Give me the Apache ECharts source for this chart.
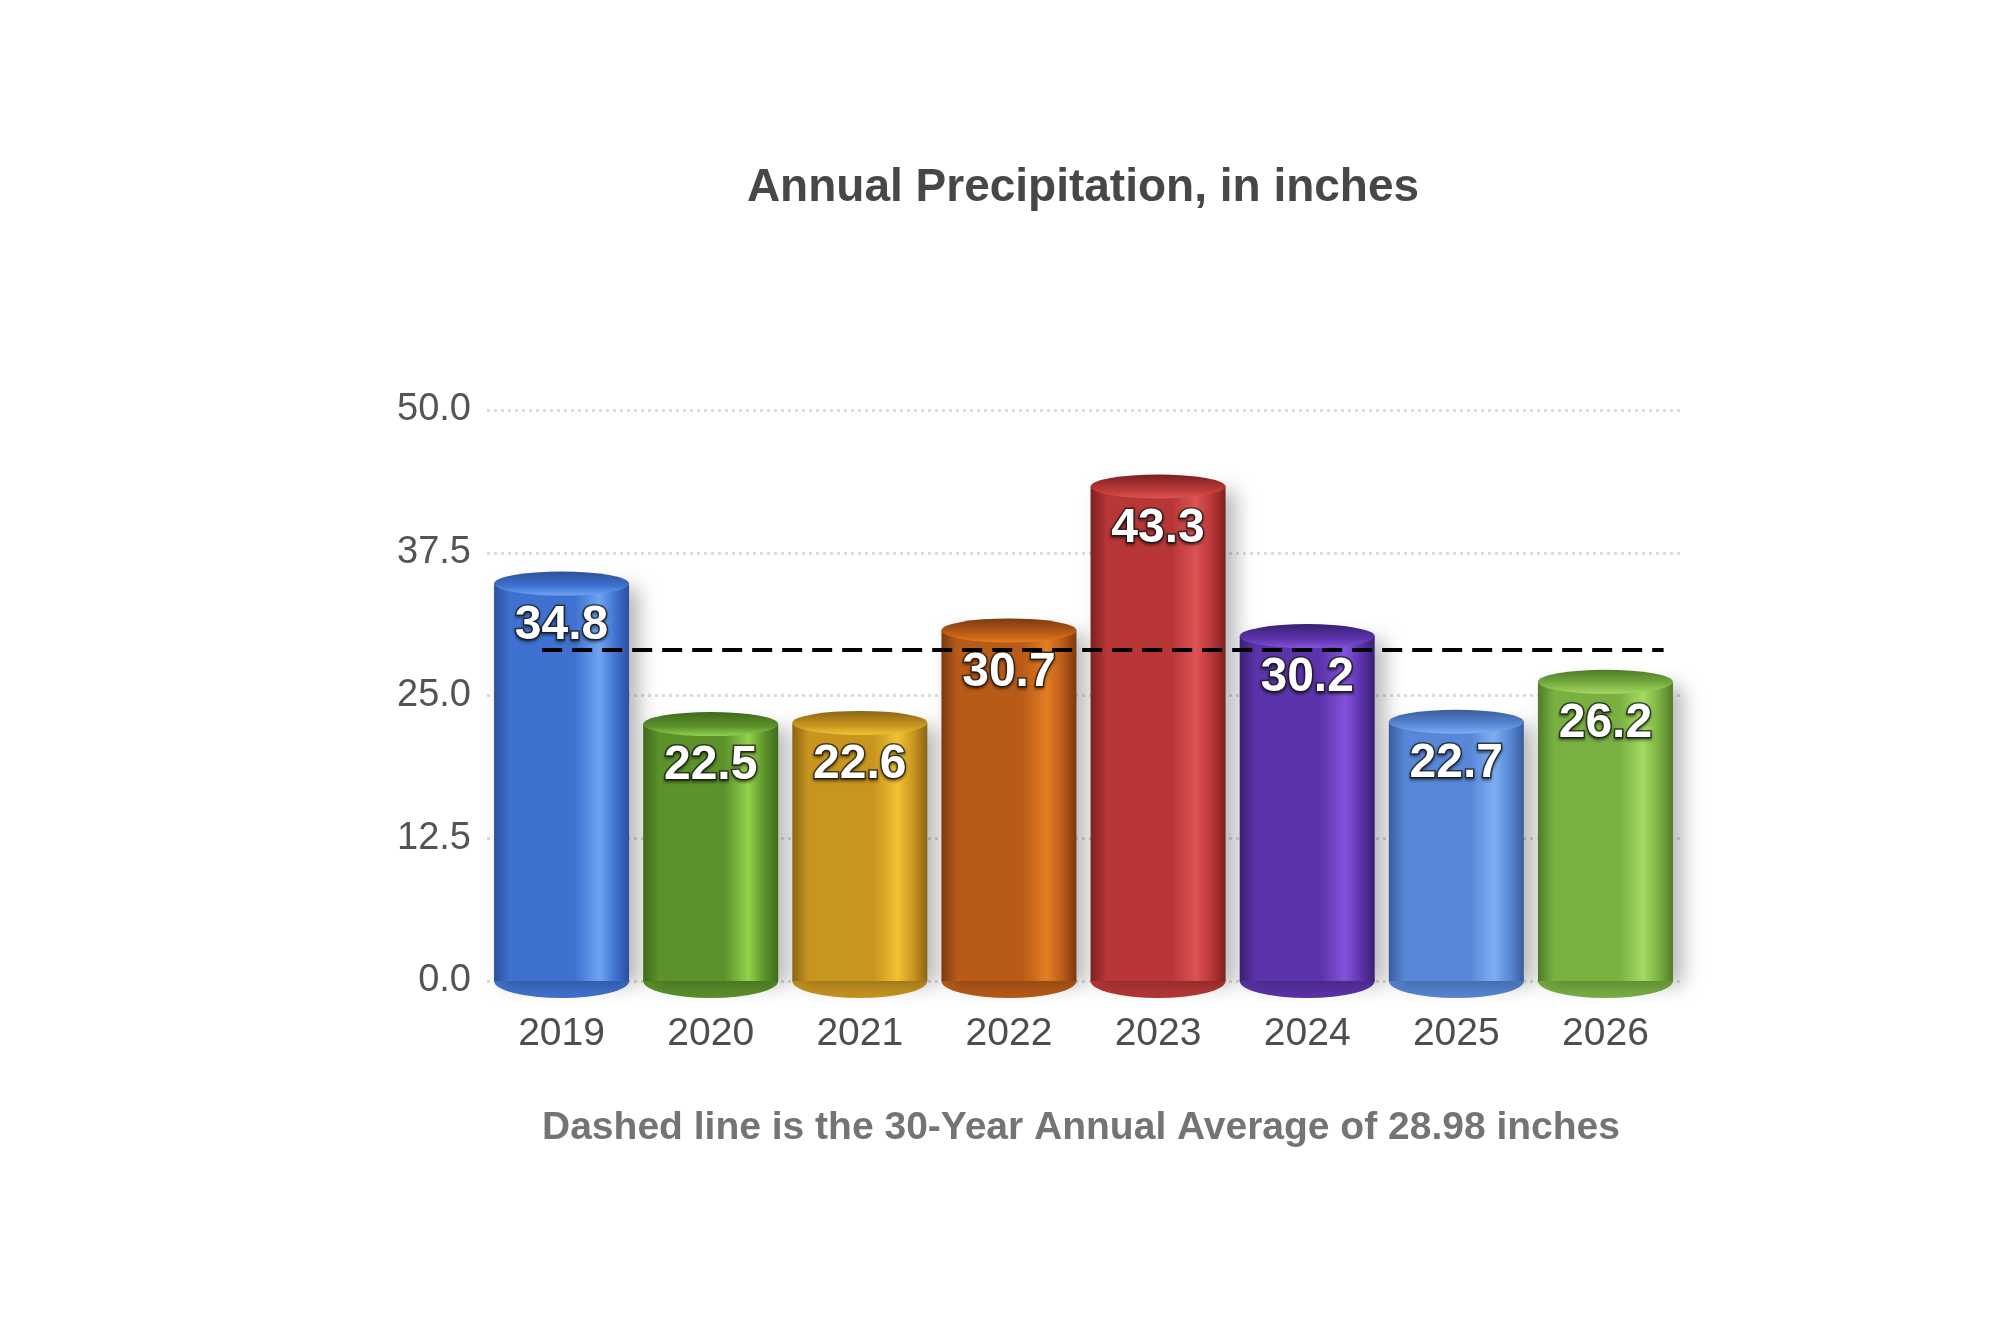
<!DOCTYPE html>
<html>
<head>
    <meta charset="utf-8">
    <title>Annual Precipitation</title>
    <script src="https://cdn.jsdelivr.net/npm/echarts@6/dist/echarts.min.js"></script>
    <style>
        html, body { margin: 0; padding: 0; background: #ffffff; }
        #chart { width: 2000px; height: 1333px; }
    </style>
</head>
<body>
    <div id="chart"></div>
    <script>
        // data
        var years = ['2019', '2020', '2021', '2022', '2023', '2024', '2025', '2026'];
        var precip = [34.8, 22.5, 22.6, 30.7, 43.3, 30.2, 22.7, 26.2];
        var average = 28.98;
        var yTicks = [0, 12.5, 25, 37.5, 50];
        // where the average line starts and ends, in category index units
        var avgSpan = [-0.13, 7.39];

        // cylinder shading per bar: [edge, body, highlight]
        var shades = [
            ['#2d4f9c', '#3f72d0', '#6ea4f2'],
            ['#3f6a1c', '#5b922a', '#92d24c'],
            ['#8a6414', '#c8951f', '#f2c232'],
            ['#7a3a0f', '#b95b18', '#e47e22'],
            ['#7c2020', '#b83636', '#dc5454'],
            ['#3a1f72', '#5b33aa', '#8452dc'],
            ['#3a5c9c', '#5787d6', '#7eaef2'],
            ['#507a26', '#79b042', '#a4da62']
        ];

        function sideGradient(s) {
            return new echarts.graphic.LinearGradient(0, 0, 1, 0, [
                { offset: 0, color: s[0] },
                { offset: 0.12, color: s[1] },
                { offset: 0.6, color: s[1] },
                { offset: 0.78, color: s[2] },
                { offset: 0.9, color: s[1] },
                { offset: 1, color: s[0] }
            ]);
        }

        function capGradient(s) {
            return new echarts.graphic.LinearGradient(0, 0, 0, 1, [
                { offset: 0, color: s[0] },
                { offset: 0.6, color: s[1] },
                { offset: 1, color: s[2] }
            ]);
        }

        var barWidth = 135;

        var barData = precip.map(function (v, i) {
            return { value: v, itemStyle: { color: sideGradient(shades[i]) } };
        });
        var topData = precip.map(function (v, i) {
            return { value: v, itemStyle: { color: capGradient(shades[i]) } };
        });
        var bottomData = precip.map(function (v, i) {
            return { value: v, itemStyle: { color: shades[i][1] } };
        });
        var avgData = avgSpan.map(function (x) { return [x, average]; });

        var chart = echarts.init(document.getElementById('chart'));

        var option = {
            backgroundColor: '#ffffff',
            animation: false,
            title: [
                {
                    text: 'Annual Precipitation, in inches',
                    left: 1078,
                    top: 160,
                    textAlign: 'center',
                    textStyle: {
                        fontFamily: 'Liberation Sans',
                        fontSize: 46,
                        fontWeight: 'bold',
                        color: '#474747'
                    }
                },
                {
                    text: 'Dashed line is the 30-Year Annual Average of ' + average + ' inches',
                    left: 1076,
                    top: 1104,
                    textAlign: 'center',
                    textStyle: {
                        fontFamily: 'Liberation Sans',
                        fontSize: 39,
                        fontWeight: 'bold',
                        color: '#747474'
                    }
                }
            ],
            grid: {
                left: 487,
                right: 320,
                top: 410,
                bottom: 352
            },
            xAxis: [
                {
                    type: 'category',
                    data: years,
                    axisLine: { show: false },
                    axisTick: { show: false },
                    axisLabel: {
                        margin: 34,
                        fontFamily: 'Liberation Sans',
                        fontSize: 39,
                        color: '#4e4e4e'
                    }
                },
                {
                    // hidden helper axis aligned with the category bands
                    type: 'value',
                    min: -0.5,
                    max: years.length - 0.5,
                    show: false
                }
            ],
            yAxis: {
                type: 'value',
                min: yTicks[0],
                max: yTicks[yTicks.length - 1],
                interval: 12.5,
                axisLine: { show: false },
                axisTick: { show: false },
                axisLabel: {
                    margin: 16,
                    fontFamily: 'Liberation Sans',
                    fontSize: 38,
                    color: '#545454',
                    formatter: function (v) { return v.toFixed(1); }
                },
                splitLine: {
                    lineStyle: { color: '#dcdcdc', width: 3, type: [3, 4] }
                }
            },
            series: [
                {
                    name: 'Precipitation',
                    type: 'bar',
                    data: barData,
                    barWidth: barWidth,
                    z: 2,
                    itemStyle: {
                        shadowColor: 'rgba(0, 0, 0, 0.28)',
                        shadowBlur: 18,
                        shadowOffsetX: 10,
                        shadowOffsetY: 4
                    },
                    label: {
                        show: true,
                        position: 'insideTop',
                        distance: 18,
                        fontFamily: 'Liberation Sans',
                        fontSize: 48,
                        fontWeight: 'bold',
                        color: '#ffffff',
                        textBorderColor: 'rgba(30, 30, 30, 0.75)',
                        textBorderWidth: 3,
                        textShadowColor: 'rgba(0, 0, 0, 0.45)',
                        textShadowBlur: 3,
                        textShadowOffsetY: 2,
                        formatter: function (p) { return p.value.toFixed(1); }
                    }
                },
                {
                    name: 'bottom',
                    type: 'pictorialBar',
                    data: bottomData,
                    symbol: 'circle',
                    symbolSize: [barWidth, 34],
                    symbolPosition: 'start',
                    symbolOffset: [0, '50%'],
                    z: 1,
                    silent: true
                },
                {
                    name: 'top',
                    type: 'pictorialBar',
                    data: topData,
                    symbol: 'circle',
                    symbolSize: [barWidth, 24],
                    symbolPosition: 'end',
                    symbolOffset: [0, '-50%'],
                    z: 3,
                    silent: true
                },
                {
                    name: 'Average',
                    type: 'line',
                    xAxisIndex: 1,
                    data: avgData,
                    showSymbol: false,
                    symbol: 'none',
                    silent: true,
                    lineStyle: { color: '#000000', width: 4, type: [20, 10] },
                    z: 5
                }
            ]
        };

        chart.setOption(option);
    </script>
</body>
</html>
